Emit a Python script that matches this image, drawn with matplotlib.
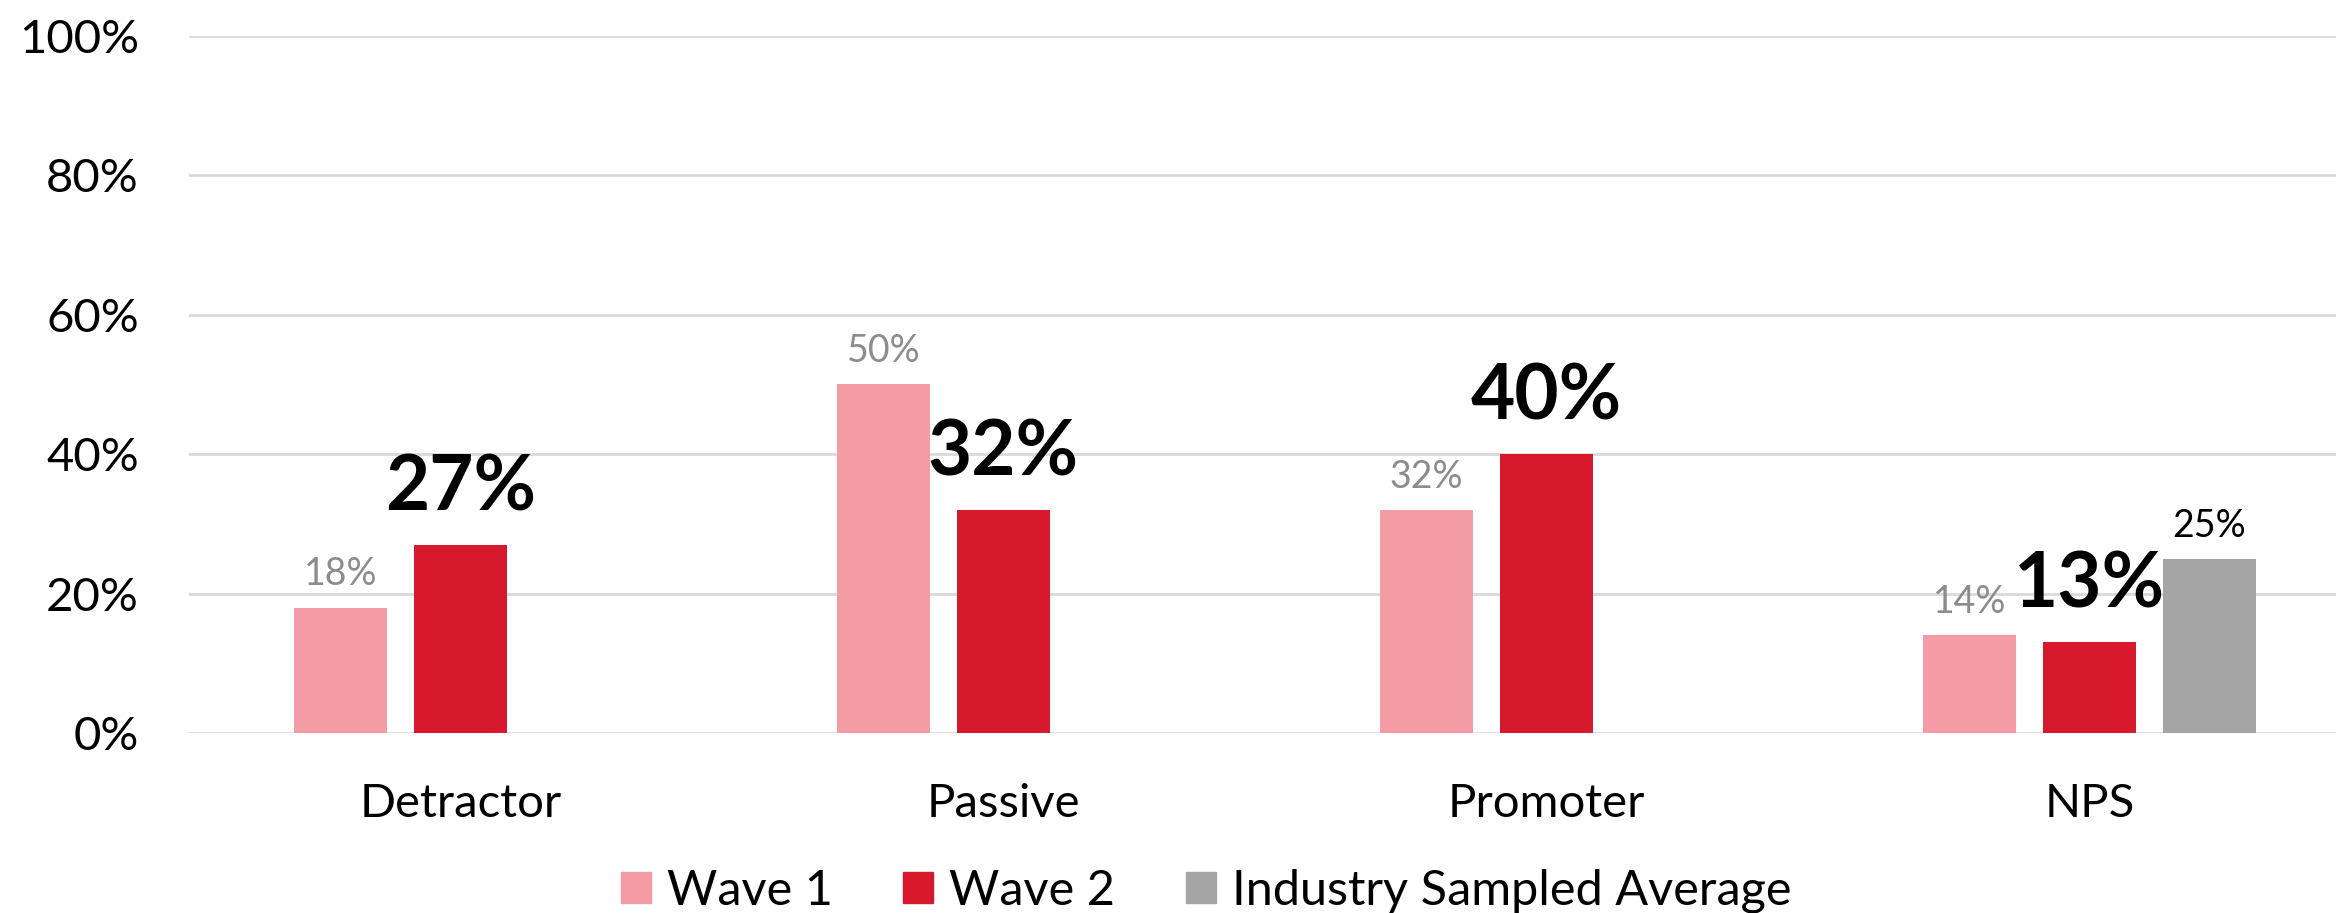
import matplotlib.pyplot as plt
from matplotlib.patches import Patch
import numpy as np

categories = ["Detractor", "Passive", "Promoter", "NPS"]
wave1 = [18, 50, 32, 14]
wave2 = [27, 32, 40, 13]
industry_avg = [None, None, None, 25]
series_names = ["Wave 1", "Wave 2", "Industry Sampled Average"]
y_ticks = [0, 20, 40, 60, 80, 100]

c_wave1 = "#F49CA5"
c_wave2 = "#D7192D"
c_ind = "#A5A5A5"

plt.rcParams["font.family"] = ["Lato", "DejaVu Sans"]

W, H = 2336, 913
fig = plt.figure(figsize=(W / 100, H / 100), dpi=100)
ax = fig.add_axes([189 / W, 180 / H, 2172 / W, 697 / H])

x = np.arange(len(categories))
bw = 0.173
step = 0.221

ax.bar(x - step, wave1, bw, color=c_wave1, zorder=3)
ax.bar(x, wave2, bw, color=c_wave2, zorder=3)
ind_x = [xi + step for xi, v in zip(x, industry_avg) if v is not None]
ind_v = [v for v in industry_avg if v is not None]
ax.bar(ind_x, ind_v, bw, color=c_ind, zorder=3)

for xi, v in zip(x, wave1):
    ax.annotate(f"{v}%", (xi - step, v), xytext=(0, 16), textcoords="offset points",
                ha="center", va="baseline", fontsize=27, color="#8C8C8C")
for xi, v in zip(x, wave2):
    ax.annotate(f"{v}%", (xi, v), xytext=(0, 25), textcoords="offset points",
                ha="center", va="baseline", fontsize=55, fontweight="bold", color="black")
for xi, v in zip(ind_x, ind_v):
    ax.annotate(f"{v}%", (xi, v), xytext=(0, 16), textcoords="offset points",
                ha="center", va="baseline", fontsize=27, color="black")

ax.set_xlim(-0.5, len(categories) - 0.5)
ax.set_ylim(0, 100)
ax.set_yticks(y_ticks)
ax.set_yticklabels([f"{t}%" for t in y_ticks], fontsize=34)
ax.set_xticks(x)
ax.set_xticklabels(categories, fontsize=34)
ax.tick_params(axis="y", length=0, pad=36)
ax.tick_params(axis="x", length=0, pad=36)
ax.grid(axis="y", color="#D9D9D9", linewidth=2, zorder=0)
for s in ax.spines.values():
    s.set_visible(False)

handles = [Patch(color=c) for c in (c_wave1, c_wave2, c_ind)]
fig.legend(handles, series_names, loc="lower center", bbox_to_anchor=(1206 / W, -44 / H),
           ncol=3, frameon=False, fontsize=35, handlelength=0.62, handleheight=0.6,
           handletextpad=0.33, columnspacing=1.45)

fig.savefig("out.png", dpi=100)
